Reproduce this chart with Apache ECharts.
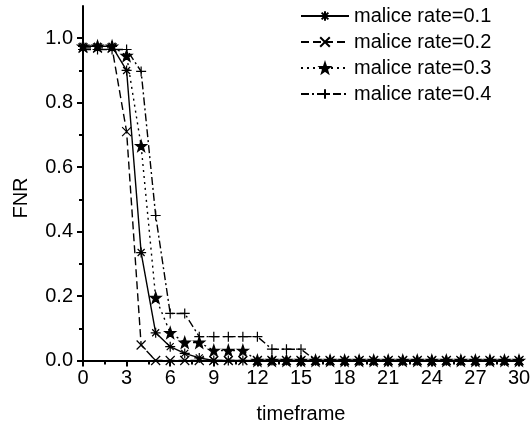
<!DOCTYPE html>
<html><head><meta charset="utf-8">
<script src="https://cdn.jsdelivr.net/npm/echarts@6/dist/echarts.min.js"></script>
<style>html,body{margin:0;padding:0;background:#fff}#c{width:530px;height:429px}</style>
</head><body><div id="c"></div>
<script>
const timeframes = [0,1,2,3,4,5,6,7,8,9,10,11,12,13,14,15,16,17,18,19,20,21,22,23,24,25,26,27,28,29,30];
const seriesNames = ['malice rate=0.1','malice rate=0.2','malice rate=0.3','malice rate=0.4'];
const rate01 = [0.975,0.975,0.975,0.9,0.335,0.086,0.043,0.022,0.008,0,0,0,0,0,0,0,0,0,0,0,0,0,0,0,0,0,0,0,0,0,0];
const rate02 = [0.97,0.97,0.97,0.71,0.048,0,0,0,0,0,0,0,0,0,0,0,0,0,0,0,0,0,0,0,0,0,0,0,0,0,0];
const rate03 = [0.975,0.975,0.975,0.946,0.666,0.195,0.086,0.056,0.056,0.031,0.031,0.031,0,0,0,0,0,0,0,0,0,0,0,0,0,0,0,0,0,0,0];
const rate04 = [0.965,0.965,0.965,0.965,0.897,0.45,0.146,0.146,0.074,0.074,0.074,0.074,0.074,0.035,0.035,0.035,0,0,0,0,0,0,0,0,0,0,0,0,0,0,0];
const yMajorTicks = [0,0.2,0.4,0.6,0.8,1.0];
const yMinorTicks = [0.1,0.3,0.5,0.7,0.9];

const FONT = '"Liberation Sans", Arial, sans-serif';
const chart = echarts.init(document.getElementById('c'));
const pairs = arr => timeframes.map((t, i) => [t, arr[i]]);

const symAsterisk = 'path://M0,-5L0,5M-5,0L5,0M-3.5,-3.5L3.5,3.5M-3.5,3.5L3.5,-3.5';
const symCross = 'path://M-5,-5L5,5M-5,5L5,-5';
const symPlus = 'path://M-5,0L5,0M0,-5L0,5';
const seriesDefs = [
  {data: rate01, symbol: symAsterisk, size: 10, line: 'solid'},
  {data: rate02, symbol: symCross, size: 9, line: [8,4]},
  {data: rate03, symbol: 'path://M0,-10L2.35,-3.24L9.51,-3.09L3.8,1.24L5.88,8.09L0,4L-5.88,8.09L-3.8,1.24L-9.51,-3.09L-2.35,-3.24Z', size: 11, line: [2,4]},
  {data: rate04, symbol: symPlus, size: 10, line: [8,3,2,3]}
];

const axisLineStyle = {color: '#000', width: 2};
chart.setOption({
  animation: false,
  backgroundColor: '#fff',
  grid: {left: 83, right: 11, top: 6, bottom: 68.5, containLabel: false, outerBoundsMode: 'none'},
  legend: {
    orient: 'vertical', left: 300, top: 6, padding: 0,
    itemWidth: 48, itemHeight: 12, itemGap: 6,
    textStyle: {fontFamily: FONT, fontSize: 20, color: '#000', lineHeight: 20},
    data: seriesNames
  },
  xAxis: {
    type: 'value', min: 0, max: 30, interval: 3,
    name: 'timeframe', nameLocation: 'middle', nameGap: 44,
    nameTextStyle: {fontFamily: FONT, fontSize: 20, color: '#000'},
    axisLine: {show: true, onZero: false, lineStyle: axisLineStyle},
    axisTick: {show: true, inside: false, length: 6, lineStyle: axisLineStyle},
    minorTick: {show: true, splitNumber: 2, length: 4, lineStyle: axisLineStyle},
    splitLine: {show: false},
    axisLabel: {fontFamily: FONT, fontSize: 20, color: '#000', margin: 8}
  },
  yAxis: [{
    type: 'value', min: 0, max: 1.1,
    axisLine: {show: true, onZero: false, lineStyle: axisLineStyle},
    axisTick: {show: true, inside: false, length: 6, lineStyle: axisLineStyle, customValues: yMajorTicks},
    splitLine: {show: false},
    axisLabel: {fontFamily: FONT, fontSize: 20, color: '#000', margin: 10, customValues: yMajorTicks,
      formatter: v => v.toFixed(1)}
  }, {
    type: 'value', min: 0, max: 1.1, position: 'left',
    axisLine: {show: false},
    axisTick: {show: true, inside: false, length: 4, lineStyle: axisLineStyle, customValues: yMinorTicks},
    splitLine: {show: false},
    axisLabel: {show: false}
  }],
  graphic: [{
    type: 'text', x: 21, y: 198, rotation: Math.PI / 2,
    style: {text: 'FNR', fill: '#000', font: '20px ' + FONT, align: 'center', verticalAlign: 'middle'}
  }],
  series: seriesDefs.map((d, i) => ({
    name: seriesNames[i], type: 'line', yAxisIndex: 0,
    data: pairs(d.data),
    symbol: d.symbol, symbolSize: d.size, showAllSymbol: true,
    lineStyle: {color: '#000', width: 1.4, type: d.line},
    itemStyle: {color: '#000', borderColor: '#000', borderWidth: 1.2},
    emphasis: {disabled: true},
    z: 2 + i
  }))
});
</script></body></html>
